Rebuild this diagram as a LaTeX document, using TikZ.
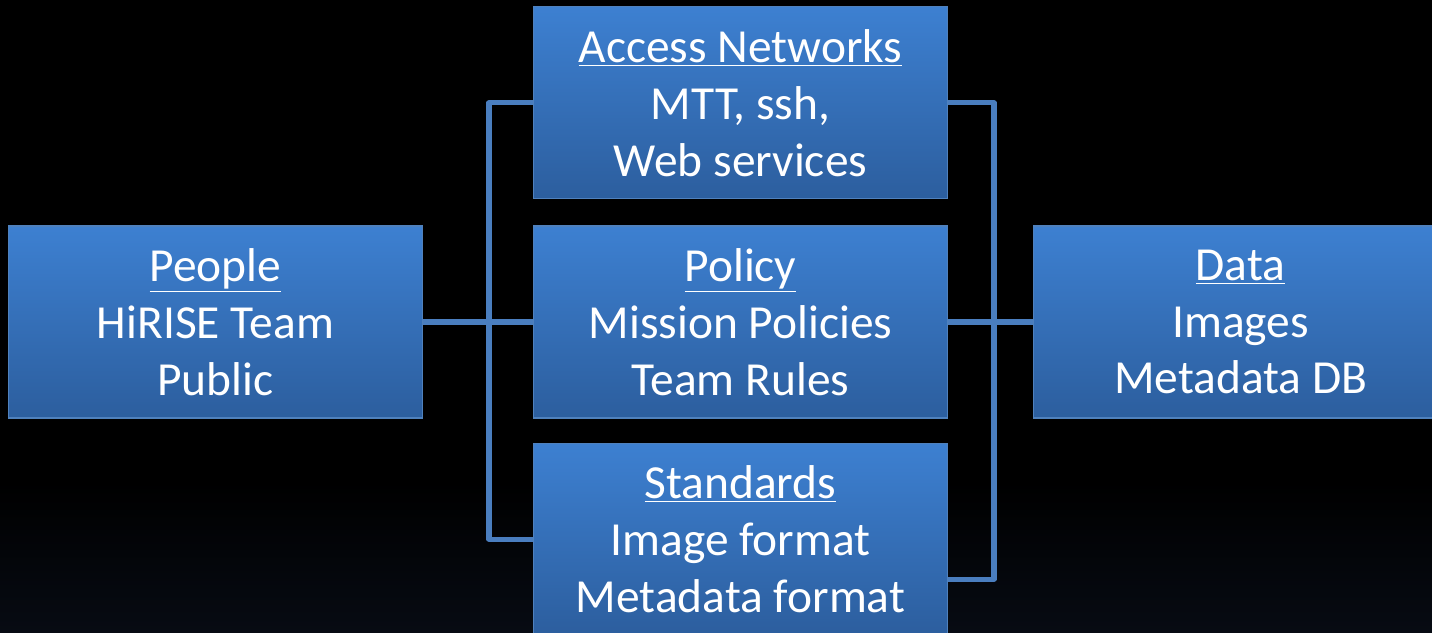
\documentclass[tikz,border=0pt]{standalone}
\usepackage{fontspec}
\setmainfont{Carlito}
\usepackage{tikz}
\usetikzlibrary{positioning}
\definecolor{boxTop}{HTML}{3D80D1}
\definecolor{boxBottom}{HTML}{2C5E9E}
\definecolor{boxEdge}{HTML}{4F81BD}
\definecolor{linkBlue}{HTML}{4A7EBF}
\definecolor{bgLow}{HTML}{070B13}
\tikzset{
    boxStyle/.style={rectangle, draw=boxEdge, line width=0.6pt, top color=boxTop, bottom color=boxBottom,
        minimum width=8.28cm, minimum height=3.84cm, inner sep=0pt, align=center, text=white,
        font=\fontsize{27}{32.4}\selectfont}, % the blue boxes
    linkStyle/.style={draw=linkBlue, line width=2.9pt, line join=round}, % the connectors
}

\begin{document}
\begin{tikzpicture}[
                                node distance=0.5cm,
                            ]
                            \useasboundingbox (-14.81,-6.2) rectangle (13.83,6.44);
                            \clip (-14.81,-6.2) rectangle (13.83,6.44);
                            \fill[black] (-14.81,-6.2) rectangle (13.83,6.44);
                            \fill[top color=black, bottom color=bgLow] (-14.81,-6.2) rectangle (13.83,-3.2);
                            \node[boxStyle] (policy) at (0,0) {\underline{Policy}\\Mission Policies\\Team Rules};
                            \node[boxStyle, above=0.52cm of policy] (access) {\underline{Access Networks}\\MTT, ssh,\\Web services};
                            \node[boxStyle, below=0.48cm of policy] (standards) {\underline{Standards}\\Image format\\Metadata format};
                            \node[boxStyle, left=2.2cm of policy] (people) {\underline{People}\\HiRISE Team\\Public};
                            \node[boxStyle, right=1.7cm of policy] (data) {\underline{Data}\\Images\\Metadata DB};
                            \coordinate[left=0.88cm of policy.west] (leftBus);
                            \coordinate[right=0.92cm of policy.east] (rightBus);
                            \coordinate[below=0.8cm of standards.east] (standardsLow);
                            \draw[linkStyle]
                            (people) -- (policy)
                            (policy) -- (data)
                            (access.west) -- (access.west -| leftBus) -- (standards.west -| leftBus) -- (standards.west)
                            (access.east) -- (access.east -| rightBus) -- (standardsLow -| rightBus) -- (standardsLow);
                        \end{tikzpicture}
\end{document}
